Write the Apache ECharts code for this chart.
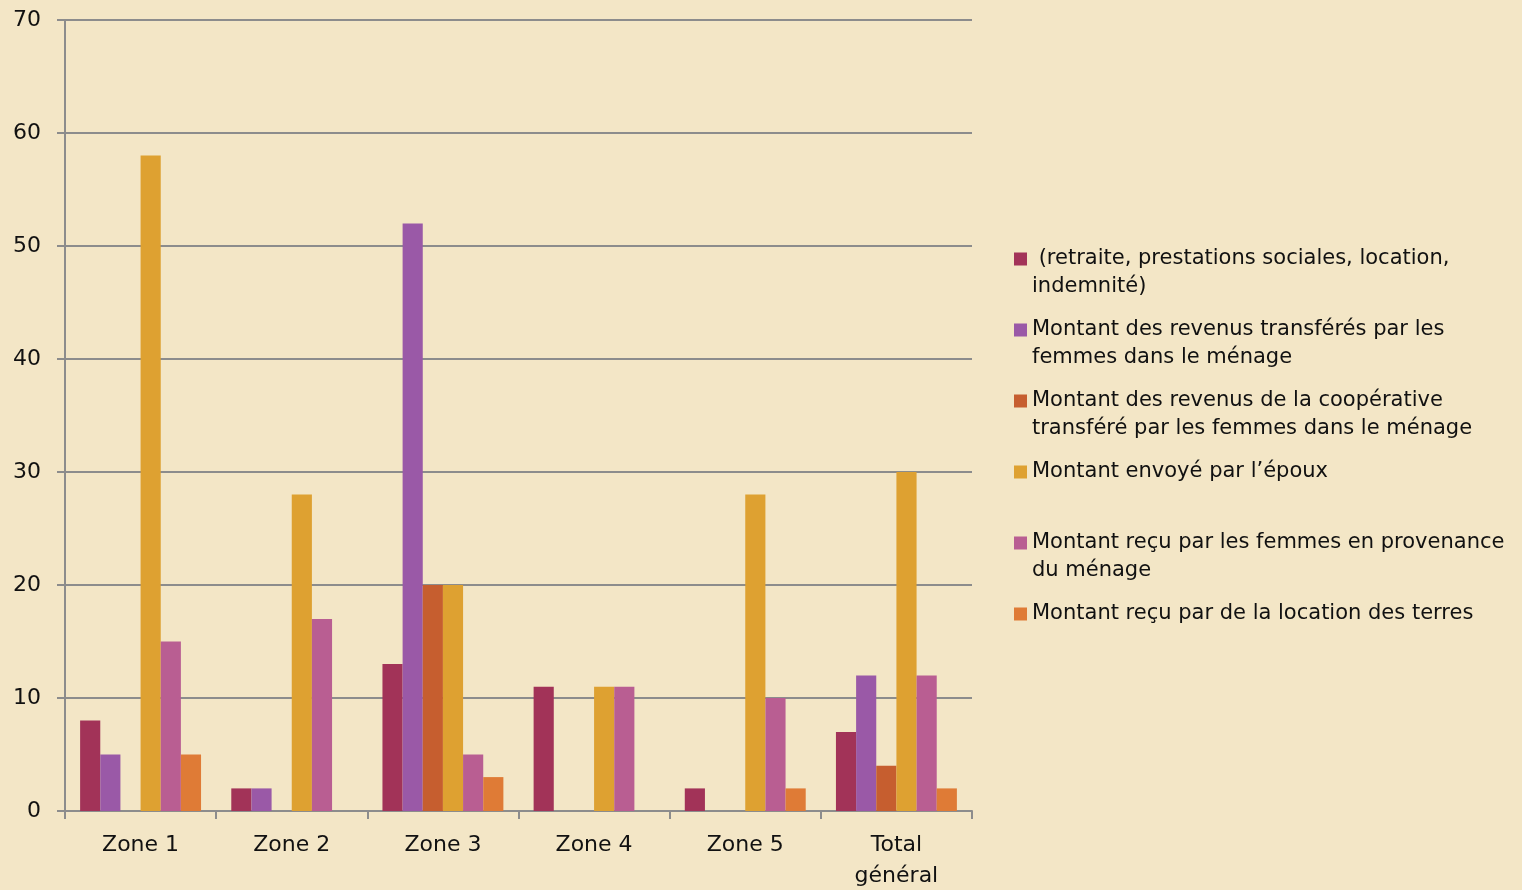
<!DOCTYPE html>
<html>
<head>
<meta charset="utf-8">
<script src="https://cdn.jsdelivr.net/npm/echarts@6/dist/echarts.min.js"></script>
<style>
html,body{margin:0;padding:0;width:1522px;height:890px;overflow:hidden;background:#F3E6C6;}
#chart{width:1522px;height:890px;}
</style>
</head>
<body>
<div id="chart"></div>
<script>
const categories = ['Zone 1', 'Zone 2', 'Zone 3', 'Zone 4', 'Zone 5', 'Total\ngénéral'];
const seriesNames = [
  ' (retraite, prestations sociales, location,\nindemnité)',
  'Montant des revenus transférés par les\nfemmes dans le ménage',
  'Montant des revenus de la coopérative\ntransféré par les femmes dans le ménage',
  'Montant envoyé par l\u2019époux',
  'Montant reçu par les femmes en provenance\ndu ménage',
  'Montant reçu par de la location des terres'
];
const retraiteVals    = [8, 2, 13, 11, 2, 7];
const transferesVals  = [5, 2, 52, 0, 0, 12];
const cooperativeVals = [0, 0, 20, 0, 0, 4];
const epouxVals       = [58, 28, 20, 11, 28, 30];
const recuMenageVals  = [15, 17, 5, 11, 10, 12];
const locationVals    = [5, 0, 3, 0, 2, 2];
const yTicks = [0, 10, 20, 30, 40, 50, 60, 70];

const colors = ['#A23358', '#9A59A7', '#C65E2F', '#DEA131', '#B95E92', '#DF7B36'];
const seriesData = [retraiteVals, transferesVals, cooperativeVals, epouxVals, recuMenageVals, locationVals];

const chart = echarts.init(document.getElementById('chart'), null, {renderer: 'canvas'});
const FONT = 'DejaVu Sans';
const iconPath = 'path://M0,0H13V13H0Z M0,41H0.01V40.99Z';

chart.setOption({
  backgroundColor: '#F3E6C6',
  animation: false,
  textStyle: {fontFamily: FONT},
  grid: {left: 65, right: 550, top: 20, bottom: 79, containLabel: false, outerBoundsMode: 'none'},
  legend: {
    orient: 'vertical',
    left: 1009,
    top: 240,
    itemWidth: 13,
    itemHeight: 41,
    itemGap: 15,
    icon: iconPath,
    data: seriesNames.map(n => ({name: n, icon: iconPath})),
    formatter: function (name) {
      return name.indexOf('\n') >= 0 ? name : name + '\n ';
    },
    textStyle: {fontFamily: FONT, fontSize: 21, color: '#111', lineHeight: 28}
  },
  xAxis: {
    type: 'category',
    data: categories,
    axisLine: {lineStyle: {color: '#8C8C8C', width: 2}},
    axisTick: {show: true, length: 8, lineStyle: {color: '#8C8C8C', width: 2}},
    axisLabel: {fontFamily: FONT, fontSize: 22, color: '#111', margin: 19, lineHeight: 31}
  },
  yAxis: {
    type: 'value',
    min: 0,
    max: 70,
    interval: 10,
    axisLine: {show: true, lineStyle: {color: '#8C8C8C', width: 2}},
    axisTick: {show: true, length: 8, lineStyle: {color: '#8C8C8C', width: 2}},
    axisLabel: {fontFamily: FONT, fontSize: 22, color: '#111', margin: 24,
      formatter: v => yTicks.indexOf(v) >= 0 ? String(v) : ''},
    splitLine: {show: true, lineStyle: {color: '#8C8C8C', width: 2}}
  },
  series: seriesNames.map((n, i) => ({
    name: n,
    type: 'bar',
    data: seriesData[i],
    barGap: '0%',
    barCategoryGap: '20%',
    itemStyle: {color: colors[i]}
  }))
});
</script>
</body>
</html>
